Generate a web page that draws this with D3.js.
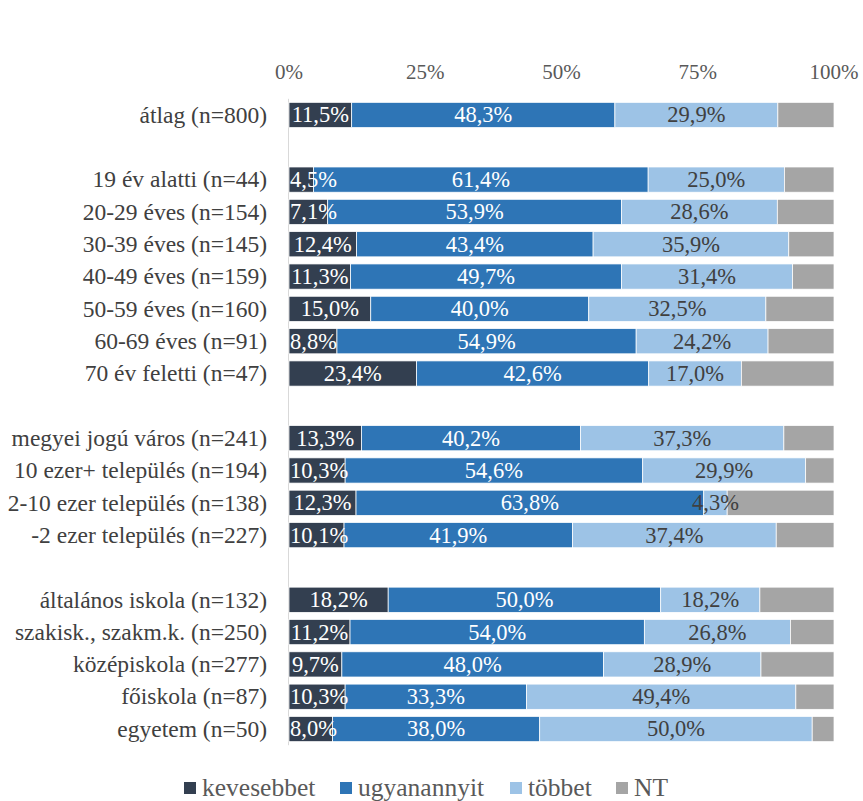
<!DOCTYPE html>
<html><head><meta charset="utf-8">
<script src="https://cdn.jsdelivr.net/npm/d3@7"></script>
<style>body{margin:0;background:#fff}svg{display:block}</style>
</head><body><svg id="c" width="863" height="801"></svg>
<script>
const categories = ["átlag (n=800)","","19 év alatti (n=44)","20-29 éves (n=154)","30-39 éves (n=145)","40-49 éves (n=159)","50-59 éves (n=160)","60-69 éves (n=91)","70 év feletti (n=47)","","megyei jogú város (n=241)","10 ezer+ település (n=194)","2-10 ezer település (n=138)","-2 ezer település (n=227)","","általános iskola (n=132)","szakisk., szakm.k. (n=250)","középiskola (n=277)","főiskola (n=87)","egyetem (n=50)"];
const kevesebbet  = [11.5,null,4.5,7.1,12.4,11.3,15.0,8.8,23.4,null,13.3,10.3,12.3,10.1,null,18.2,11.2,9.7,10.3,8.0];
const ugyanannyit = [48.3,null,61.4,53.9,43.4,49.7,40.0,54.9,42.6,null,40.2,54.6,63.8,41.9,null,50.0,54.0,48.0,33.3,38.0];
const tobbet      = [29.9,null,25.0,28.6,35.9,31.4,32.5,24.2,17.0,null,37.3,29.9,4.3,37.4,null,18.2,26.8,28.9,49.4,50.0];
const NT          = [10.3,null,9.1,10.4,8.3,7.6,12.5,12.1,17.0,null,9.2,5.2,19.6,10.6,null,13.6,8.0,13.4,7.0,4.0];
const seriesNames = ["kevesebbet","ugyanannyit","többet","NT"];
const tickValues = [0,25,50,75,100];

const FONT = "Liberation Serif";
const colors = ["#333F50","#2E75B6","#9DC3E6","#A5A5A5"];
const labelColors = ["#ffffff","#ffffff","#404040",null];
const seriesVals = [kevesebbet, ugyanannyit, tobbet, NT];
const fmt = v => v.toFixed(1).replace(".", ",") + "%";

const svg = d3.select("#c");
const x = d3.scaleLinear().domain([0,100]).range([289,834]);
const y = d3.scaleBand().domain(d3.range(categories.length)).range([98.8,745.2]).paddingInner(0.22).paddingOuter(0.11);

svg.append("g").selectAll("text").data(tickValues).join("text")
  .attr("x", d => x(d)).attr("y", 78.5).attr("text-anchor","middle")
  .style("font-family", FONT).style("font-size", "21px").attr("fill","#595959").text(d => d + "%");

svg.append("line").attr("x1",288.5).attr("x2",288.5).attr("y1",y.range()[0]).attr("y2",y.range()[1]).attr("stroke","#D9D9D9");

svg.append("g").selectAll("text").data(categories).join("text")
  .attr("x", 267).attr("y", (d,i) => y(i) + y.bandwidth()/2).attr("dy","0.33em")
  .attr("text-anchor","end").style("font-family", FONT).style("font-size", "23.5px").attr("fill","#404040").text(d => d);

const rows = categories.map((c,i) => {
  let acc = 0; const segs = [];
  seriesVals.forEach((arr,s) => { const v = arr[i]; if (v == null) return; segs.push({i, s, x0: acc, x1: acc + v, v}); acc += v; });
  return segs;
}).flat();

svg.append("g").selectAll("rect").data(rows).join("rect")
  .attr("x", d => x(d.x0)).attr("width", d => x(d.x1) - x(d.x0))
  .attr("y", d => y(d.i)).attr("height", y.bandwidth())
  .attr("fill", d => colors[d.s]).attr("stroke","#ffffff").attr("stroke-width",0.75);

const lab = svg.append("g");
rows.filter(d => labelColors[d.s]).forEach(d => {
  const t = lab.append("text").attr("y", y(d.i) + y.bandwidth()/2).attr("dy","0.33em")
    .attr("text-anchor","middle").style("font-family", FONT).style("font-size", "22.5px")
    .attr("fill", labelColors[d.s]).text(fmt(d.v));
  const w = t.node().getComputedTextLength();
  let cx = (x(d.x0) + x(d.x1)) / 2;
  cx = Math.max(cx, x(0) + 1 + w/2);
  t.attr("x", cx);
});

const leg = svg.append("g");
const legX = [184, 340, 510, 616];
seriesNames.forEach((n,s) => {
  leg.append("rect").attr("x", legX[s]).attr("y", 782).attr("width", 12).attr("height", 12).attr("fill", colors[s]);
  leg.append("text").attr("x", legX[s] + 18).attr("y", 788).attr("dy","0.33em")
    .style("font-family", FONT).style("font-size", "25.5px").attr("fill","#595959").text(n);
});
</script></body></html>
